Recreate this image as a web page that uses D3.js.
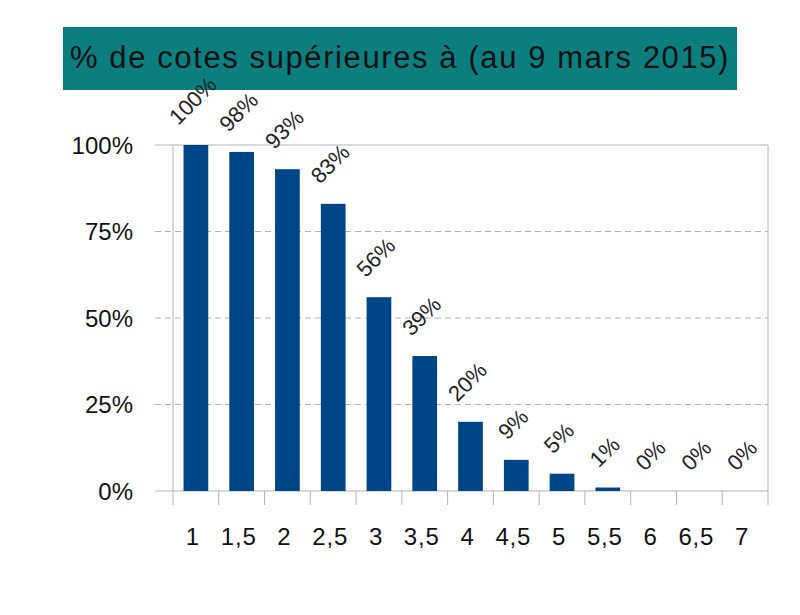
<!DOCTYPE html>
<html><head><meta charset="utf-8">
<script src="https://cdn.jsdelivr.net/npm/d3@7"></script>
<style>body{margin:0;background:#fff;}svg{display:block;}text{font-family:"Liberation Sans",Arial,sans-serif;}</style>
</head><body>
<script>
const titleText = "% de cotes supérieures à (au 9 mars 2015)";
const categories = ["1","1,5","2","2,5","3","3,5","4","4,5","5","5,5","6","6,5","7"];
const values = [100,98,93,83,56,39,20,9,5,1,0,0,0];
const yTicks = [0,25,50,75,100];
const yTickLabels = ["0%","25%","50%","75%","100%"];

const W=800,H=615;
const svg=d3.select("body").append("svg").attr("width",W).attr("height",H);
svg.append("rect").attr("width",W).attr("height",H).attr("fill","#fff");

// title box
svg.append("rect").attr("x",63).attr("y",27).attr("width",674).attr("height",63).attr("fill","#0b7f7f");
svg.append("text").attr("x",400).attr("y",68).attr("text-anchor","middle")
  .attr("font-size",31).attr("fill","#111").attr("letter-spacing",1.6).text(titleText);

const L=173,R=768,T=145,B=491;
const x=d3.scaleBand().domain(categories).range([L,R]).paddingInner(0.46).paddingOuter(0.23);
const xb=d3.scaleBand().domain(categories).range([L,R]);
const y=d3.scaleLinear().domain([0,100]).range([B,T]);

// gridlines
svg.append("g").selectAll("line").data(yTicks.filter(d=>d>0&&d<100)).join("line")
  .attr("x1",155).attr("x2",R).attr("y1",d=>y(d)).attr("y2",d=>y(d))
  .attr("stroke","#b3b3b3").attr("stroke-dasharray","6,4");
// border lines
svg.append("line").attr("x1",155).attr("x2",R).attr("y1",y(100)).attr("y2",y(100)).attr("stroke","#b3b3b3");
svg.append("line").attr("x1",R).attr("x2",R).attr("y1",T).attr("y2",B+14).attr("stroke","#b3b3b3");
svg.append("line").attr("x1",L).attr("x2",L).attr("y1",T).attr("y2",B+14).attr("stroke","#b3b3b3");
svg.append("line").attr("x1",155).attr("x2",R).attr("y1",B).attr("y2",B).attr("stroke","#b3b3b3");
// category boundary ticks
svg.append("g").selectAll("line").data(categories.slice(1)).join("line")
  .attr("x1",d=>xb(d)).attr("x2",d=>xb(d)).attr("y1",B).attr("y2",B+14).attr("stroke","#b3b3b3");

// y labels
svg.append("g").selectAll("text").data(yTicks).join("text")
  .attr("x",133).attr("y",d=>y(d)+8.5).attr("text-anchor","end").attr("font-size",24)
  .attr("fill","#111").text((d,i)=>yTickLabels[i]);

// x labels
svg.append("g").selectAll("text").data(categories).join("text")
  .attr("x",d=>xb(d)+xb.bandwidth()/2-3).attr("y",545).attr("text-anchor","middle").attr("font-size",24)
  .attr("letter-spacing",0.8).attr("fill","#111").text(d=>d);

// bars
svg.append("g").selectAll("rect").data(values).join("rect")
  .attr("x",(d,i)=>x(categories[i])).attr("width",x.bandwidth())
  .attr("y",d=>y(d)).attr("height",d=>B-y(d)).attr("fill","#004586");

// data labels
const lbl=svg.append("g").selectAll("text").data(values).join("text")
  .attr("text-anchor","middle").attr("dominant-baseline","central").attr("font-size",22)
  .attr("fill","#222").text(d=>d+"%");
lbl.attr("transform",function(d,i){
  const len=this.getComputedTextLength();
  const cx=x(categories[i])+x.bandwidth()/2;
  const cy=y(d)-19-(len+15)/(2*Math.SQRT2);
  return `translate(${cx-3},${cy}) rotate(-45)`;
});
</script>
</body></html>
